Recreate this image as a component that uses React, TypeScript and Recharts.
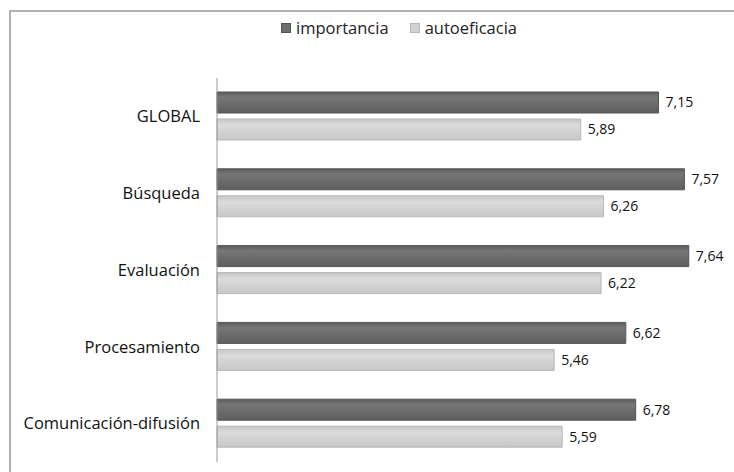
import React from "react";
import { BarChart, Bar, XAxis, YAxis, Legend, LabelList } from "recharts";

// Competence areas, top to bottom
const categories = [
  "GLOBAL",
  "Búsqueda",
  "Evaluación",
  "Procesamiento",
  "Comunicación-difusión",
];
const importancia = [7.15, 7.57, 7.64, 6.62, 6.78];
const autoeficacia = [5.89, 6.26, 6.22, 5.46, 5.59];

const seriesNames = ["importancia", "autoeficacia"];
const seriesColors = ["#6d6d6d", "#d2d2d2"];
const seriesStrokes = ["#555555", "#b8b8b8"];
const gradientIds = ["gradImportancia", "gradAutoeficacia"];

const data = categories.map((name, i) => ({
  name,
  importancia: importancia[i],
  autoeficacia: autoeficacia[i],
}));

const FONT = "'Open Sans', Lato, sans-serif";

const fmt = (v: any) => String(v).replace(".", ",");

const LegendContent = () => (
  <div
    style={{
      display: "flex",
      alignItems: "center",
      fontFamily: FONT,
      fontSize: 16.5,
      lineHeight: "20px",
      color: "#222",
    }}
  >
    {seriesNames.map((n, i) => (
      <span
        key={n}
        style={{ display: "flex", alignItems: "center", marginRight: 21 }}
      >
        <span
          style={{
            display: "inline-block",
            width: 8,
            height: 8,
            background: seriesColors[i],
            border: `1px solid ${seriesStrokes[i]}`,
            marginRight: 5,
          }}
        />
        {n}
      </span>
    ))}
  </div>
);

export default function App() {
  return (
    <div
      style={{
        position: "fixed",
        left: 0,
        top: 0,
        width: 734,
        height: 472,
        overflow: "hidden",
        background: "#fff",
      }}
    >
      {/* chart frame, running past the right and bottom edges */}
      <div
        style={{
          position: "absolute",
          left: 9,
          top: 10,
          width: 760,
          height: 520,
          borderTop: "2px solid #b3b3b3",
          borderLeft: "2px solid #b3b3b3",
          boxSizing: "border-box",
        }}
      />
      <div style={{ position: "absolute", left: 0, top: 0 }}>
        <BarChart
          width={734}
          height={472}
          data={data}
          layout="vertical"
          margin={{ top: 58, right: 23, bottom: 10, left: 9 }}
          barSize={21}
          barGap={6}
        >
          <defs>
            <linearGradient id={gradientIds[0]} x1="0" y1="0" x2="0" y2="1">
              <stop offset="0%" stopColor="#5c5c5c" />
              <stop offset="25%" stopColor="#767676" />
              <stop offset="55%" stopColor="#6c6c6c" />
              <stop offset="100%" stopColor="#5e5e5e" />
            </linearGradient>
            <linearGradient id={gradientIds[1]} x1="0" y1="0" x2="0" y2="1">
              <stop offset="0%" stopColor="#c6c6c6" />
              <stop offset="30%" stopColor="#dcdcdc" />
              <stop offset="60%" stopColor="#d2d2d2" />
              <stop offset="100%" stopColor="#c8c8c8" />
            </linearGradient>
          </defs>
          <XAxis type="number" domain={[0, 8]} hide />
          <YAxis
            type="category"
            dataKey="name"
            width={208}
            tickLine={false}
            tickSize={6}
            tickMargin={11}
            axisLine={{ stroke: "#9a9a9a", strokeWidth: 1 }}
            tick={{ fill: "#111", fontSize: 16.5, fontFamily: FONT }}
          />
          <Legend
            verticalAlign="top"
            content={<LegendContent />}
            wrapperStyle={{ top: 18, left: 281, width: 300 }}
          />
          {seriesNames.map((key, i) => (
            <Bar
              key={key}
              dataKey={key}
              name={key}
              fill={`url(#${gradientIds[i]})`}
              stroke={seriesStrokes[i]}
              strokeWidth={1}
              isAnimationActive={false}
            >
              <LabelList
                dataKey={key}
                position="right"
                offset={7}
                formatter={fmt}
                style={{ fill: "#111", fontSize: 14, fontFamily: FONT }}
              />
            </Bar>
          ))}
        </BarChart>
      </div>
    </div>
  );
}
